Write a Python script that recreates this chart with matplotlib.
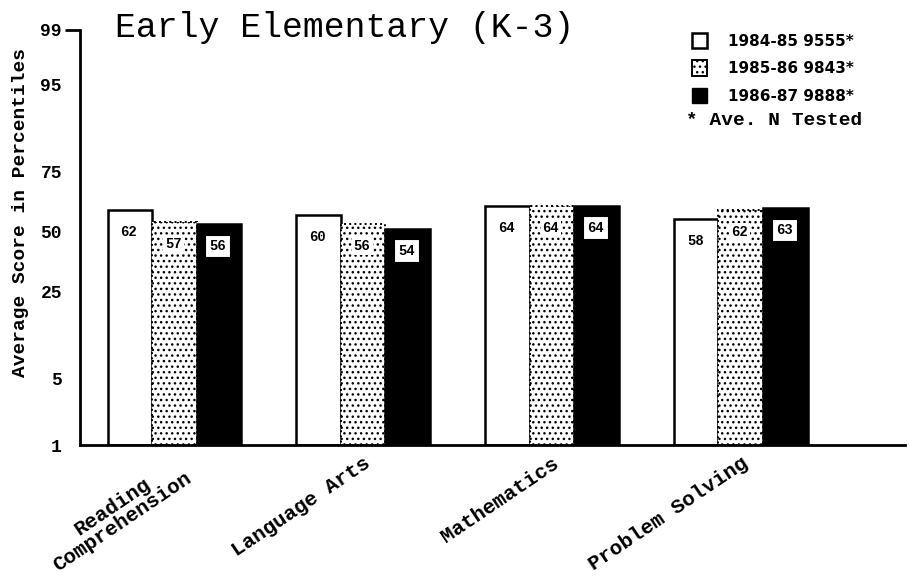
import numpy as np
import matplotlib
matplotlib.use("Agg")
import matplotlib.pyplot as plt
import matplotlib.transforms as mtransforms
from matplotlib.patches import Patch
from statistics import NormalDist

# percentile scores by subject and school year
subjects = ["Reading\nComprehension", "Language Arts", "Mathematics", "Problem Solving"]
years = ["1984-85 9555*", "1985-86 9843*", "1986-87 9888*"]
scores_8485 = [62, 60, 64, 58]
scores_8586 = [57, 56, 64, 62]
scores_8687 = [56, 54, 64, 63]
yticks = [1, 5, 25, 50, 75, 95, 99]

nd = NormalDist()
_inv = np.vectorize(lambda v: nd.inv_cdf(v / 100.0), otypes=[float])
_cdf = np.vectorize(lambda v: nd.cdf(v) * 100.0, otypes=[float])


def to_z(p):
    p = np.clip(np.asarray(p, dtype=float), 0.01, 99.99)
    return _inv(p)


def from_z(z):
    return _cdf(np.asarray(z, dtype=float))


mono = "Liberation Mono"

fig = plt.figure(figsize=(9.09, 5.85), dpi=100)
ax = fig.add_axes([80 / 909, 1 - 445 / 585, 825 / 909, 415 / 585])
ax.set_yscale("function", functions=(to_z, from_z))
ax.set_ylim(1, 99)
ax.set_xlim(-0.5, 3.87)

x = np.arange(len(subjects))
w = 0.236
base = 1
series = [scores_8485, scores_8586, scores_8687]
styles = [
    dict(facecolor="white", edgecolor="black", linewidth=1.8),
    dict(facecolor="white", edgecolor="black", linewidth=1.4, hatch="...", linestyle=":"),
    dict(facecolor="black", edgecolor="black", linewidth=1.8),
]
for i, (vals, st) in enumerate(zip(series, styles)):
    xs = x + (i - 1) * w
    heights = [v - base for v in vals]
    ax.bar(xs, heights, width=w, bottom=base, zorder=2, **st)
    for xi, v in zip(xs, vals):
        if i == 2:
            box = dict(boxstyle="square,pad=0.3", fc="white", ec="black", lw=0.8)
        elif i == 1:
            box = dict(boxstyle="square,pad=0.15", fc="white", ec="none")
        else:
            box = None
        ax.annotate(str(v), (xi, v), xytext=(-1, -22), textcoords="offset pixels",
                    ha="center", va="center", fontsize=10, fontweight="bold",
                    family=mono, bbox=box, zorder=3)

for s in ["top", "right"]:
    ax.spines[s].set_visible(False)
ax.spines["left"].set_linewidth(2)
ax.spines["bottom"].set_linewidth(2)

ax.set_yticks(yticks)
ax.set_yticklabels([str(t) for t in yticks], fontsize=13, fontweight="bold", family=mono)
ax.yaxis.set_minor_locator(matplotlib.ticker.NullLocator())
ax.tick_params(axis="y", length=0, pad=13)
top_tick = ax.yaxis.get_major_ticks()[-1]
top_tick.tick1line.set_markersize(11)
top_tick.tick1line.set_markeredgewidth(2)
# inner percentile labels sit slightly above their grid value
shift = mtransforms.ScaledTranslation(0, 6 / 100, fig.dpi_scale_trans)
for lab in ax.get_yticklabels()[1:-1]:
    lab.set_transform(lab.get_transform() + shift)

ax.set_xticks(x)
ax.set_xticklabels(subjects, rotation=34, ha="right", rotation_mode="anchor",
                   fontsize=15, fontweight="bold", family=mono,
                   multialignment="center", linespacing=0.95)
ax.tick_params(axis="x", length=0, pad=6)

ax.set_ylabel("Average Score in Percentiles", fontsize=14, fontweight="bold", family=mono)
ax.yaxis.set_label_coords(-0.062, 0.56)

fig.text(115 / 909, 1 - 37 / 585, "Early Elementary (K-3)", fontsize=25,
         family=mono, ha="left", va="baseline")

handles = [Patch(facecolor="white", edgecolor="black", linewidth=1.8),
           Patch(facecolor="white", edgecolor="black", linewidth=1.4, hatch="..."),
           Patch(facecolor="black", edgecolor="black")]
fig.legend(handles, years, loc="upper left", bbox_to_anchor=(678 / 909, 1 - 19 / 585),
           frameon=False, handlelength=1.0, handleheight=1.2, handletextpad=1.4,
           labelspacing=0.75, prop=dict(family="DejaVu Sans", size=11, weight="bold"))
fig.text(686 / 909, 1 - 121 / 585, "* Ave. N Tested", fontsize=14, fontweight="bold",
         family=mono, ha="left", va="center")

fig.savefig("out.png", dpi=100)
